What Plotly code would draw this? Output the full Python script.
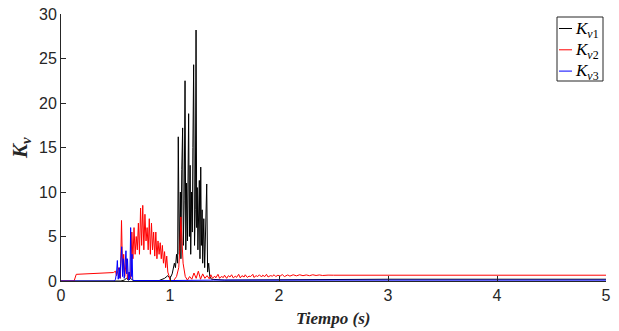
import plotly.graph_objects as go

# ---- data ----
t_kv1 = [0, 0.55, 0.58, 0.60, 0.62, 0.64, 0.66, 0.90, 0.95, 0.98, 1.00, 1.02, 1.04, 1.05, 1.06, 1.07,
         1.076, 1.085, 1.095, 1.100, 1.108, 1.116, 1.122, 1.130, 1.138, 1.145, 1.152, 1.160, 1.171,
         1.178, 1.185, 1.190, 1.198, 1.205, 1.210, 1.217, 1.225, 1.232, 1.239, 1.245, 1.250, 1.256,
         1.262, 1.269, 1.275, 1.282, 1.288, 1.295, 1.300, 1.310, 1.318, 1.325, 1.337, 1.345, 1.355,
         1.365, 1.38, 1.50, 1.80, 2.10, 2.40, 3.00, 4.00, 5.00]
kv1 = [0, 0, 0.1, 0.3, 0.1, 0.3, 0.05, 0.05, 0.3, 0.6, 0.3, 0.8, 2.0, 1.5, 3.0, 2.0,
       16.2, 3.0, 10.0, 2.5, 12.5, 17.2, 4.0, 9.0, 22.5, 3.5, 11.0, 4.5, 18.8,
       5.0, 13.0, 3.0, 10.0, 5.5, 15.0, 24.3, 4.0, 8.0, 28.2, 6.0, 10.5, 3.5,
       9.0, 11.3, 2.5, 12.8, 4.0, 8.0, 2.0, 7.0, 1.5, 5.0, 10.9, 1.0, 2.0,
       0.5, 0.2, 0.1, 0.12, 0.15, 0.18, 0.2, 0.2, 0.2]

t_kv2 = [0, 0.12, 0.14, 0.30, 0.48, 0.50, 0.51, 0.53, 0.545, 0.555, 0.565, 0.575, 0.585, 0.60, 0.61,
         0.625, 0.64, 0.65, 0.66, 0.67, 0.68, 0.69, 0.70, 0.71, 0.72, 0.73, 0.74, 0.75, 0.76, 0.77,
         0.78, 0.79, 0.80, 0.81, 0.82, 0.83, 0.84, 0.85, 0.86, 0.87, 0.88, 0.89, 0.90, 0.91, 0.92,
         0.93, 0.94, 0.95, 0.96, 0.97, 0.98, 0.99, 1.00, 1.03, 1.06, 1.08, 1.09, 1.10, 1.12, 1.14,
         1.16, 1.18, 1.20, 1.22, 1.24, 1.26, 1.28, 1.30, 1.32, 1.34, 1.36, 1.375, 1.39, 1.41, 1.42,
         1.44, 1.455, 1.47, 1.49, 1.50, 1.52, 1.535, 1.55, 1.565, 1.58, 1.60, 1.61, 1.63, 1.645, 1.66,
         1.68, 1.69, 1.71, 1.725, 1.74, 1.76, 1.77, 1.79, 1.805, 1.82, 1.84, 1.85, 1.87, 1.885, 1.90,
         1.92, 1.94, 1.955, 1.97, 1.99, 2.01, 2.03, 2.05, 2.08, 2.10, 2.13, 2.16, 2.19, 2.22, 2.25,
         2.28, 2.31, 2.34, 2.37, 2.40, 2.45, 2.50, 3.00, 4.00, 5.00]
kv2 = [0, 0, 0.75, 0.85, 0.95, 1.1, 0.6, 1.5, 0.3, 6.8, 1.0, 3.0, 0.5, 2.5, 0.2,
       1.0, 0.3, 5.5, 2.5, 6.0, 3.0, 5.0, 3.5, 6.5, 3.0, 8.2, 4.0, 8.5, 3.5, 7.5,
       4.5, 6.0, 3.5, 7.0, 3.0, 6.5, 3.5, 5.5, 2.8, 5.5, 2.5, 4.5, 3.0, 4.3, 2.5,
       4.0, 2.0, 3.3, 1.5, 2.8, 1.0, 0.6, 0.1, 0.0, 0.5, 1.5, 3.5, 7.2, 2.0, 0.5,
       0.1, 0.5, 0.2, 0.9, 0.3, 1.1, 0.2, 0.8, 0.3, 0.6, 0.25, 0.7, 0.3, 0.55, 0.35,
       0.75, 0.3, 0.5, 0.4, 0.65, 0.3, 0.6, 0.45, 0.7, 0.35, 0.55, 0.4, 0.75, 0.35, 0.6,
       0.45, 0.7, 0.4, 0.55, 0.5, 0.75, 0.4, 0.6, 0.5, 0.7, 0.45, 0.65, 0.5, 0.75, 0.45,
       0.6, 0.55, 0.7, 0.5, 0.65, 0.55, 0.72, 0.5, 0.68, 0.55, 0.7, 0.58, 0.7, 0.6, 0.68,
       0.6, 0.7, 0.62, 0.68, 0.62, 0.66, 0.65, 0.65, 0.65, 0.65]

t_kv3 = [0, 0.49, 0.50, 0.51, 0.517, 0.525, 0.535, 0.540, 0.548, 0.557, 0.565, 0.572, 0.580, 0.588,
         0.596, 0.603, 0.610, 0.618, 0.625, 0.632, 0.639, 0.645, 0.652, 0.658, 0.67, 1.00, 1.30,
         1.40, 2.00, 3.00, 4.00, 5.00]
kv3 = [0, 0, 0.2, 1.0, 2.3, 0.2, 1.5, 0.3, 2.0, 3.85, 0.5, 2.5, 0.3, 3.0,
       3.4, 0.8, 2.5, 0.1, 1.0, 0.2, 6.0, 0.5, 3.0, 0.1, 0.05, 0.05, 0.1,
       0.1, 0.1, 0.1, 0.1, 0.1]

names = ["<i>K</i><sub><i>v</i>1</sub>", "<i>K</i><sub><i>v</i>2</sub>", "<i>K</i><sub><i>v</i>3</sub>"]
colors = ["#000000", "#ff0000", "#0000ff"]

x_ticks = [0, 1, 2, 3, 4, 5]
y_ticks = [0, 5, 10, 15, 20, 25, 30]

fig = go.Figure()
for t, v, n, c in zip([t_kv1, t_kv2, t_kv3], [kv1, kv2, kv3], names, colors):
    fig.add_trace(go.Scatter(x=t, y=v, mode="lines", name=n, showlegend=False,
                             line=dict(color=c, width=1)))

# ---- layout helpers (pixel -> paper) ----
L, R, T, B = 61, 606, 14, 281
def px(xp):
    return (xp - L) / (R - L)
def py(yp):
    return (B - yp) / (B - T)

# ---- custom compact legend ----
fig.add_shape(type="rect", xref="paper", yref="paper",
              x0=px(557), x1=px(603), y0=py(81), y1=py(17),
              line=dict(color="#262626", width=1), fillcolor="white", layer="above")
for i, (n, c) in enumerate(zip(names, colors)):
    yy = 28.5 + i * 21.3
    fig.add_shape(type="line", xref="paper", yref="paper",
                  x0=px(559), x1=px(572), y0=py(yy), y1=py(yy),
                  line=dict(color=c, width=1), layer="above")
    fig.add_annotation(xref="paper", yref="paper", x=px(572.5), y=py(yy + 1),
                       xanchor="left", yanchor="middle", showarrow=False, text=n,
                       font=dict(family="Liberation Serif, Times New Roman", size=17, color="#000000"))

# ---- axis titles ----
fig.add_annotation(xref="paper", yref="paper", x=px(333), y=py(318),
                   xanchor="center", yanchor="middle", showarrow=False,
                   text="<b><i>Tiempo (s)</i></b>",
                   font=dict(family="Liberation Serif, Times New Roman", size=17, color="#262626"))
fig.add_annotation(xref="paper", yref="paper", x=px(21), y=py(148),
                   xanchor="center", yanchor="middle", showarrow=False, textangle=-90,
                   text="<b><i>K</i></b><sub><b><i>v</i></b></sub>",
                   font=dict(family="Liberation Serif, Times New Roman", size=21, color="#262626"))

axis_common = dict(showline=True, linecolor="#262626", linewidth=1, ticks="inside",
                   ticklen=5, tickcolor="#262626", showgrid=False, zeroline=False,
                   mirror=False, automargin=False,
                   tickfont=dict(family="Liberation Sans, Arial", size=16, color="#262626"))

fig.update_layout(
    width=619, height=331,
    margin=dict(l=61, r=13, t=14, b=50),
    plot_bgcolor="white", paper_bgcolor="white",
    xaxis=dict(range=[0, 5], tickvals=x_ticks, **axis_common),
    yaxis=dict(range=[0, 30], tickvals=y_ticks, **axis_common),
    showlegend=False,
)

fig.write_html("out.html")
